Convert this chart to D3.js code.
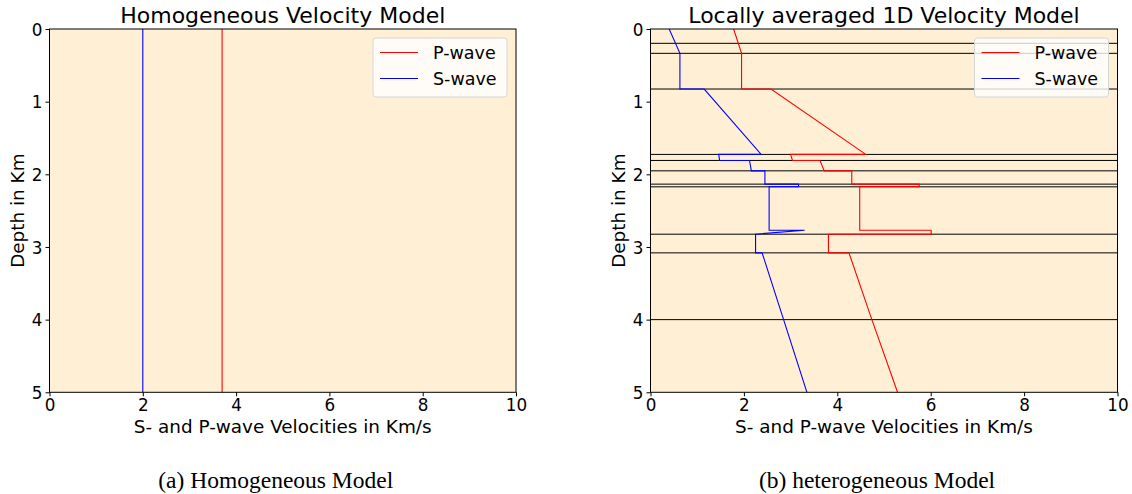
<!DOCTYPE html>
<html>
<head>
<meta charset="utf-8">
<script src="https://cdn.jsdelivr.net/npm/d3@7"></script>
<style>
html,body{margin:0;padding:0;background:#fff;}
svg{display:block;}
text{font-family:"DejaVu Sans",sans-serif;fill:#000;}
.cap{font-family:"Liberation Serif","Times New Roman",serif;}
</style>
</head>
<body>
<svg id="chart" width="1132" height="494"></svg>
<script>
// ---------- data ----------
const velocityTicks = [0, 2, 4, 6, 8, 10];
const depthTicks = [0, 1, 2, 3, 4, 5];
const seriesNames = ["P-wave", "S-wave"];

// Homogeneous model (km/s)
const homogeneousP = 3.7;
const homogeneousS = 2.0;

// Layer boundaries (km) of the locally averaged 1D model
const layerDepths = [0.197, 0.335, 0.826, 1.726, 1.809, 1.952, 2.135, 2.172, 2.824, 3.081, 4.0];

// P-wave profile: depth (km) and velocity (km/s)
const pDepth = [0, 0.335, 0.826, 0.826, 1.726, 1.726, 1.809, 1.809, 1.952, 1.952, 2.135, 2.135, 2.172, 2.172, 2.769, 2.769, 2.824, 2.824, 3.081, 3.081, 4.0, 5.0];
const pVel   = [1.78, 1.95, 1.95, 2.58, 4.61, 3.00, 3.04, 3.63, 3.72, 4.31, 4.31, 5.75, 5.75, 4.48, 4.48, 6.01, 6.01, 3.81, 3.81, 4.25, 4.74, 5.29];

// S-wave profile: depth (km) and velocity (km/s)
const sDepth = [0, 0.335, 0.826, 0.826, 1.726, 1.726, 1.809, 1.809, 1.952, 1.952, 2.135, 2.135, 2.172, 2.172, 2.769, 2.769, 2.824, 3.081, 3.081, 4.0, 5.0];
const sVel   = [0.40, 0.63, 0.63, 1.15, 2.37, 1.46, 1.48, 2.12, 2.16, 2.45, 2.45, 3.17, 3.17, 2.54, 2.54, 3.30, 2.25, 2.25, 2.39, 2.85, 3.35];

const titles = ["Homogeneous Velocity Model", "Locally averaged 1D Velocity Model"];
const captions = ["(a) Homogeneous Model", "(b) heterogeneous Model"];
const xLabel = "S- and P-wave Velocities in Km/s";
const yLabel = "Depth in Km";

// ---------- drawing ----------
const svg = d3.select("#chart");
const colors = {"P-wave": "#ff0000", "S-wave": "#0000ff"};
const bg = "#ffefd5";

const panels = [
  {x0: 49.5, x1: 516, y0: 29, y1: 392.3, title: titles[0], caption: captions[0],
   series: [
     {name: "P-wave", pts: [[homogeneousP, 0], [homogeneousP, 5]]},
     {name: "S-wave", pts: [[homogeneousS, 0], [homogeneousS, 5]]}
   ], layers: []},
  {x0: 650.5, x1: 1117.5, y0: 29, y1: 392.3, title: titles[1], caption: captions[1],
   series: [
     {name: "P-wave", pts: pDepth.map((d, i) => [pVel[i], d])},
     {name: "S-wave", pts: sDepth.map((d, i) => [sVel[i], d])}
   ], layers: layerDepths}
];

panels.forEach((p, pi) => {
  const x = d3.scaleLinear().domain([0, 10]).range([p.x0, p.x1]);
  const y = d3.scaleLinear().domain([0, 5]).range([p.y0, p.y1]);
  const g = svg.append("g");

  g.append("rect").attr("x", p.x0).attr("y", p.y0)
    .attr("width", p.x1 - p.x0).attr("height", p.y1 - p.y0).attr("fill", bg);

  const clipId = "clip" + pi;
  svg.append("clipPath").attr("id", clipId).append("rect")
    .attr("x", p.x0).attr("y", p.y0).attr("width", p.x1 - p.x0).attr("height", p.y1 - p.y0);
  const plot = g.append("g").attr("clip-path", `url(#${clipId})`);

  // layer boundaries
  plot.selectAll("line.layer").data(p.layers).join("line")
    .attr("class", "layer")
    .attr("x1", p.x0).attr("x2", p.x1)
    .attr("y1", d => y(d)).attr("y2", d => y(d))
    .attr("stroke", "#000").attr("stroke-width", 1);

  const line = d3.line().x(d => x(d[0])).y(d => y(d[1]));
  p.series.forEach(s => {
    plot.append("path").attr("d", line(s.pts))
      .attr("fill", "none").attr("stroke", colors[s.name]).attr("stroke-width", 1.1);
  });

  // axes
  const xAxis = d3.axisBottom(x).tickValues(velocityTicks).tickSize(4).tickPadding(3).tickFormat(d3.format("d"));
  const yAxis = d3.axisLeft(y).tickValues(depthTicks).tickSize(4).tickPadding(3).tickFormat(d3.format("d"));
  const gx = g.append("g").attr("transform", `translate(0,${p.y1})`).call(xAxis);
  const gy = g.append("g").attr("transform", `translate(${p.x0},0)`).call(yAxis);
  [gx, gy].forEach(a => {
    a.select(".domain").remove();
    a.selectAll("text").style("font-family", "DejaVu Sans").style("font-size", "16.8px").attr("fill", "#000");
    a.selectAll("line").attr("stroke", "#000").attr("stroke-width", 1);
  });
  gy.selectAll("text").attr("dy", "0.36em");

  // spines
  g.append("rect").attr("x", p.x0).attr("y", p.y0)
    .attr("width", p.x1 - p.x0).attr("height", p.y1 - p.y0)
    .attr("fill", "none").attr("stroke", "#000").attr("stroke-width", 1);

  const cx = (p.x0 + p.x1) / 2;
  g.append("text").attr("x", cx).attr("y", 23).attr("text-anchor", "middle")
    .style("font-size", "22px").text(p.title);
  g.append("text").attr("x", cx).attr("y", 433).attr("text-anchor", "middle")
    .style("font-size", "18.4px").text(xLabel);
  g.append("text").attr("transform", `translate(${p.x0 - 26},${(p.y0 + p.y1) / 2}) rotate(-90)`)
    .attr("text-anchor", "middle").style("font-size", "18.4px").text(yLabel);
  g.append("text").attr("class", "cap").attr("x", cx - 7).attr("y", 488).attr("text-anchor", "middle")
    .style("font-size", "23.5px").text(p.caption);

  // legend
  const lx = p.x1 - 9 - 134, ly = 38;
  const leg = g.append("g");
  leg.append("rect").attr("x", lx).attr("y", ly).attr("width", 134).attr("height", 59)
    .attr("rx", 3).attr("fill", "#fff").attr("fill-opacity", 0.8)
    .attr("stroke", "#d6d6d6").attr("stroke-width", 1);
  seriesNames.forEach((n, i) => {
    const yy = ly + 14.5 + i * 26;
    leg.append("line").attr("x1", lx + 7).attr("x2", lx + 45).attr("y1", yy).attr("y2", yy)
      .attr("stroke", colors[n]).attr("stroke-width", 1.1);
    leg.append("text").attr("x", lx + 60).attr("y", yy).attr("dy", "0.36em")
      .style("font-size", "17.5px").text(n);
  });
});
</script>
</body>
</html>
